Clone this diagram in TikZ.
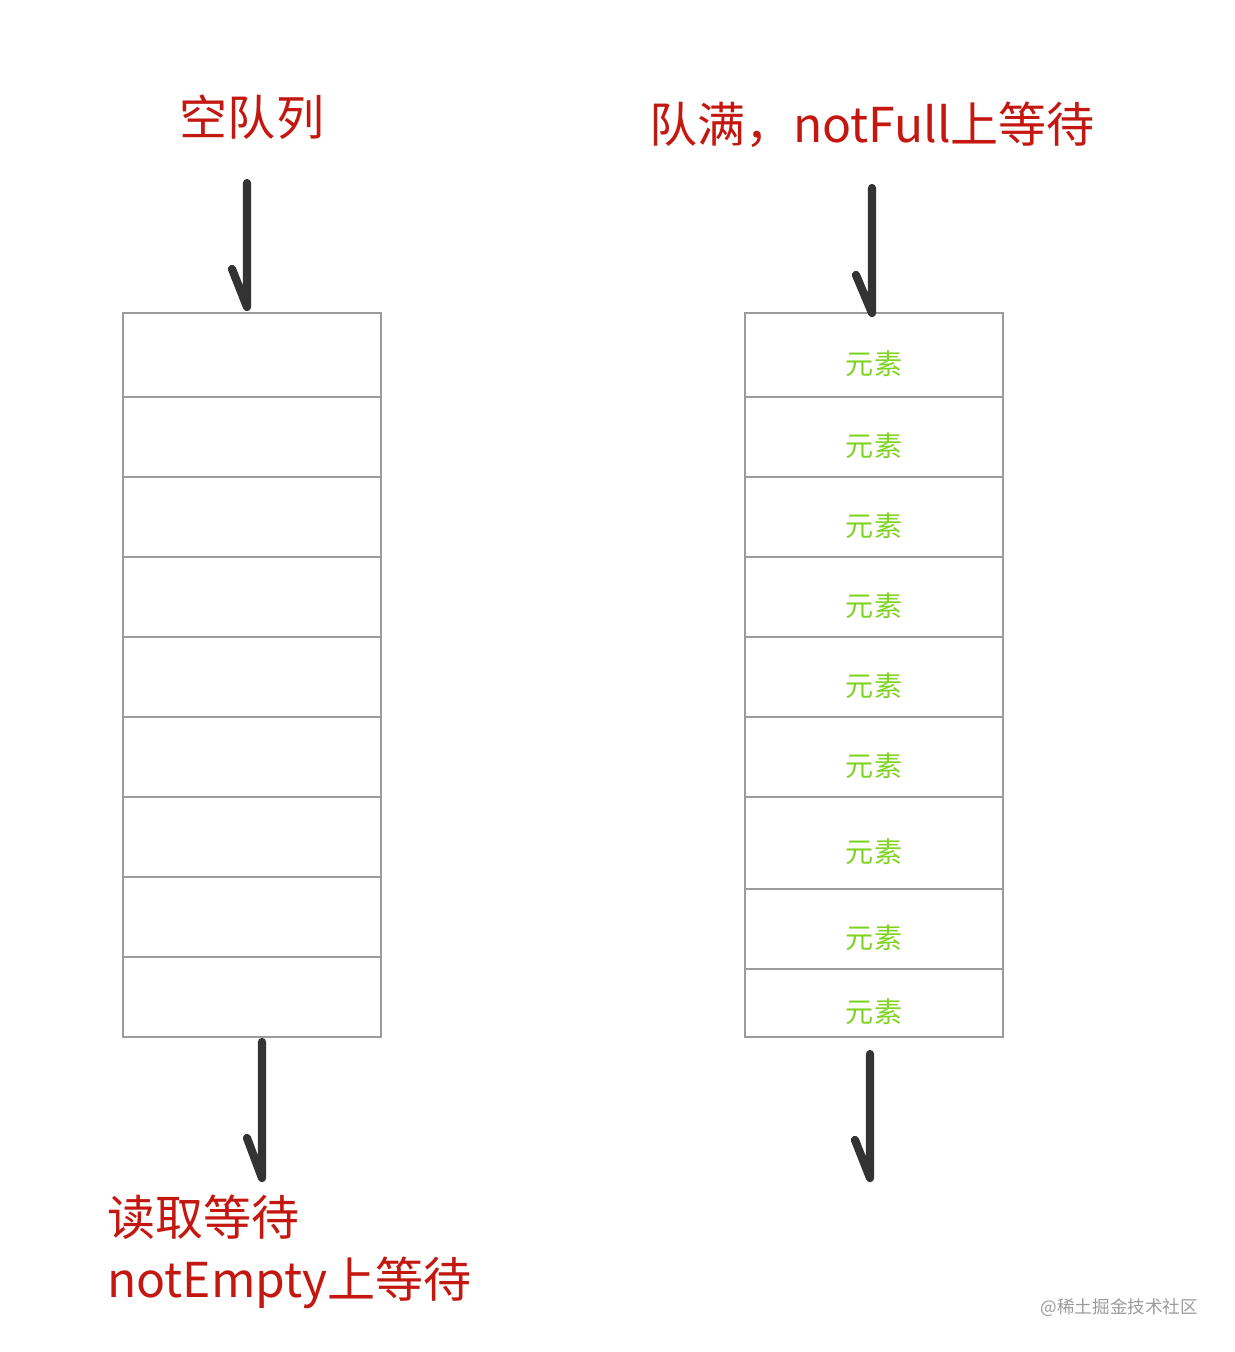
\documentclass[tikz,border=0pt]{standalone}
\usepackage{fontspec}
\setmainfont{Noto Sans CJK SC}
\usetikzlibrary{positioning}
\definecolor{tipred}{HTML}{C3170F}
\definecolor{elemgreen}{HTML}{7ED321}
\definecolor{cellgray}{HTML}{9B9B9B}
\definecolor{penblack}{HTML}{333333}
\tikzset{
    cell/.style = {draw=cellgray, line width=1.2pt},
    elem/.style = {text=elemgreen, font=\fontsize{24}{26}\selectfont},
    tip/.style = {text=tipred, font=\fontsize{41}{44}\selectfont, inner sep=0pt},
    pen/.style = {draw=penblack, line width=7pt, line cap=round, line join=round}
}
\begin{document}
\begin{tikzpicture}[x=0.03cm,y=-0.03cm]
    \useasboundingbox (0,0) rectangle (1234,1352);
    % left queue: empty
    \foreach \t/\b [count=\i] in {313/397,397/477,477/557,557/637,637/717,717/797,797/877,877/957,957/1037}
        \draw[cell] (123,\t) rectangle (381,\b);
    % right queue: full
    \foreach \t/\b [count=\i] in {313/397,397/477,477/557,557/637,637/717,717/797,797/889,889/969,969/1037}{
        \draw[cell] (745,\t) rectangle (1003,\b);
        \node[elem] (e\i) at (874,{(\t+\b)/2+9}) {元素};
    }
    \node[tip] (empty) at (252,117) {空队列};
    \node[tip] (full) at (872,125) {队满，notFull上等待};
    \node[tip, anchor=west] (read) at (107,1217) {读取等待};
    \node[tip, anchor=west] (wait) at (107,1283) {notEmpty上等待};
    \node[text=cellgray, font=\fontsize{15}{17}\selectfont, anchor=east] (mark) at (1202,1308) {@稀土掘金技术社区};
    % hand drawn arrows
    \coordinate (a1) at (247,183); \coordinate (a2) at (247,307);
    \coordinate (b1) at (262,1042); \coordinate (b2) at (262,1178);
    \coordinate (c1) at (872,188); \coordinate (c2) at (872,313);
    \coordinate (d1) at (870,1054); \coordinate (d2) at (870,1178);
    \draw[pen] (a1) -- (a2) -- ++(-15,-38);
    \draw[pen] (b1) -- (b2) -- ++(-15,-40);
    \draw[pen] (c1) -- (c2) -- ++(-16,-38);
    \draw[pen] (d1) -- (d2) -- ++(-15,-38);
\end{tikzpicture}
\end{document}
